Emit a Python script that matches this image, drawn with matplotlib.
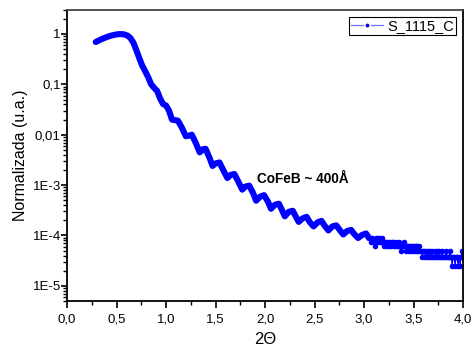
import numpy as np
import matplotlib
matplotlib.use("Agg")
import matplotlib.pyplot as plt
from matplotlib.lines import Line2D
from matplotlib.ticker import FixedLocator, LogLocator, NullFormatter

plt.rcParams['font.family'] = ['Liberation Sans', 'DejaVu Sans']

# main curve: 2theta and log10 of normalized intensity
two_theta = [0.29, 0.33, 0.37, 0.41, 0.45, 0.49, 0.53, 0.57, 0.61, 0.64,
             0.67, 0.70, 0.73, 0.76, 0.79, 0.82, 0.85, 0.88, 0.91, 0.94,
             0.97, 1.00, 1.03, 1.06, 1.09, 1.12, 1.16, 1.20, 1.23, 1.26,
             1.30, 1.34, 1.37, 1.40, 1.44, 1.47, 1.50, 1.54, 1.58, 1.62,
             1.65, 1.69, 1.73, 1.77, 1.80, 1.84, 1.88, 1.91, 1.95, 1.99,
             2.03, 2.06, 2.10, 2.14, 2.17, 2.20, 2.24, 2.28, 2.31, 2.34,
             2.38, 2.42, 2.45, 2.49, 2.53, 2.57, 2.60, 2.64, 2.68, 2.72,
             2.75, 2.79, 2.83, 2.87, 2.90, 2.94, 2.98, 3.02, 3.05]
log_int = [-0.16, -0.12, -0.085, -0.055, -0.03, -0.012, -0.002, -0.005, -0.03, -0.08,
           -0.17, -0.32, -0.48, -0.63, -0.74, -0.86, -1.00, -1.07, -1.13, -1.28,
           -1.39, -1.42, -1.52, -1.70, -1.71, -1.72, -1.86, -2.03, -2.02, -2.00,
           -2.16, -2.35, -2.29, -2.28, -2.46, -2.62, -2.57, -2.55, -2.71, -2.86,
           -2.80, -2.78, -2.93, -3.09, -3.03, -3.01, -3.16, -3.31, -3.23, -3.20,
           -3.33, -3.47, -3.39, -3.37, -3.49, -3.62, -3.53, -3.51, -3.62, -3.73,
           -3.66, -3.63, -3.73, -3.82, -3.74, -3.71, -3.80, -3.90, -3.82, -3.80,
           -3.88, -3.98, -3.91, -3.89, -3.97, -4.05, -3.99, -3.96, -4.05]

# noisy tail: 2theta from 3.05 to 4.00 (step 0.01), intensity in count levels
tail_theta = [round(3.05 + 0.01 * i, 2) for i in range(96)]
tail_levels = [7, 7, 6, 7, 6, 6, 5, 7, 6, 7,
               7, 6, 6, 7, 6, 5, 6, 6, 5, 6,
               5, 6, 5, 6, 6, 5, 5, 6, 5, 5,
               6, 5, 4, 5, 5, 6, 5, 4, 5, 5,
               4, 5, 5, 4, 5, 4, 5, 5, 4, 5,
               4, 5, 4, 4, 3, 4, 4, 3, 4, 3,
               4, 3, 4, 3, 4, 3, 3, 4, 3, 4,
               3, 4, 3, 3, 4, 3, 3, 3, 4, 3,
               3, 3, 4, 3, 2, 3, 3, 2, 3, 3,
               2, 3, 2, 3, 4, 3]
level_step = 1.25e-5

y_main = 10 ** np.array(log_int)
y_tail = np.array(tail_levels) * level_step

fig = plt.figure(figsize=(4.72, 3.49), dpi=100)
ax = fig.add_axes([0.142, 0.1375, 0.839, 0.834])

blue = '#0000ff'
ax.plot(two_theta, y_main, color=blue, lw=4.4, solid_capstyle='round',
        solid_joinstyle='round')
ax.plot(tail_theta, y_tail, color=blue, lw=0.8, marker='o', ms=4, mew=0)

ax.set_yscale('log')
ax.set_xlim(0, 4)
ax.set_ylim(5e-6, 3)

ax.xaxis.set_major_locator(FixedLocator([0, 0.5, 1, 1.5, 2, 2.5, 3, 3.5, 4]))
ax.xaxis.set_minor_locator(FixedLocator(np.arange(0.25, 4, 0.5)))
ax.set_xticklabels(['0,0', '0,5', '1,0', '1,5', '2,0', '2,5', '3,0', '3,5', '4,0'])
ax.yaxis.set_major_locator(FixedLocator([1e-5, 1e-4, 1e-3, 1e-2, 1e-1, 1]))
ax.set_yticklabels(['1E-5', '1E-4', '1E-3', '0,01', '0,1', '1'])
ax.yaxis.set_minor_locator(LogLocator(base=10, subs=np.arange(2, 10)))
ax.yaxis.set_minor_formatter(NullFormatter())

ax.tick_params(which='major', direction='out', length=5, width=1.2,
               labelsize=9.5, colors='black', top=False, right=False)
ax.tick_params(axis='x', which='major', pad=4)
ax.tick_params(axis='y', which='major', pad=0.5, length=4)
ax.tick_params(which='minor', direction='out', length=3, width=1,
               top=False, right=False)
for s in ax.spines.values():
    s.set_linewidth(1.3)
ax.spines['top'].set_color('#444444')

ax.set_xlabel('2Θ', fontsize=12, labelpad=5)
ax.set_ylabel('Normalizada (u.a.)', fontsize=11.5, labelpad=3)

ax.text(1.92, 10 ** -2.96, 'CoFeB ~ 400Å', fontsize=9.8, fontweight='bold',
        va='baseline', ha='left')

handle = Line2D([], [], color='#7070ff', lw=0.9, marker='o', ms=4,
                mfc=blue, mec='white', mew=1.2)
leg = ax.legend([handle], ['S_1115_C'], loc='upper right', fontsize=10.5,
                frameon=True, fancybox=False, framealpha=1, borderpad=0.15,
                handlelength=2.2, handletextpad=0.3, borderaxespad=0.45)
leg.get_frame().set_edgecolor('black')
leg.get_frame().set_linewidth(0.8)

fig.savefig('out.png', dpi=100)
